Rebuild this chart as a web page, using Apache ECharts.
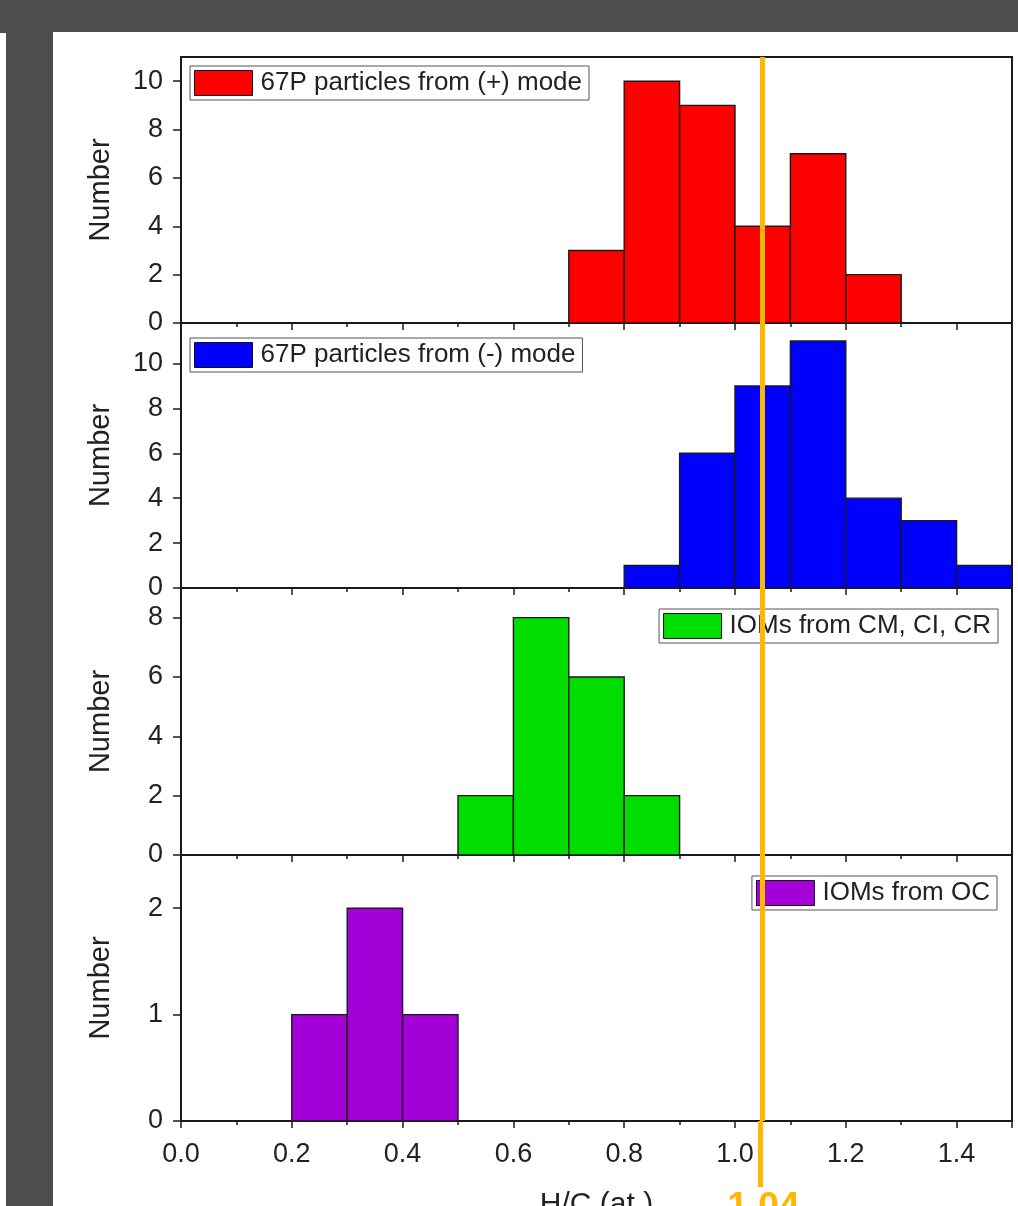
<!DOCTYPE html>
<html>
<head>
<meta charset="utf-8">
<script src="https://cdn.jsdelivr.net/npm/echarts@6/dist/echarts.min.js"></script>
<style>
  html, body { margin: 0; padding: 0; background: #4d4d4d; width: 1018px; height: 1206px; overflow: hidden; }
  .sheet { position: absolute; left: 53px; top: 32px; right: 0; bottom: 0; background: #fff; }
  .strip { position: absolute; left: 0; top: 33px; width: 6px; bottom: 0; background: #fff; }
  #chart { position: absolute; left: 0; top: 0; width: 1018px; height: 1206px; }
</style>
</head>
<body>
<div class="strip"></div>
<div class="sheet"></div>
<div id="chart"></div>
<script>
  // histogram bins: start of each 0.1-wide bin and its count
  const binWidth = 0.1
  const plusStarts = [0.7, 0.8, 0.9, 1.0, 1.1, 1.2]
  const plusCounts = [3, 10, 9, 4, 7, 2]
  const minusStarts = [0.8, 0.9, 1.0, 1.1, 1.2, 1.3, 1.4]
  const minusCounts = [1, 6, 9, 11, 4, 3, 1]
  const cmStarts = [0.5, 0.6, 0.7, 0.8]
  const cmCounts = [2, 8, 6, 2]
  const ocStarts = [0.2, 0.3, 0.4]
  const ocCounts = [1, 2, 1]

  const names = [
    '67P particles from (+) mode',
    '67P particles from (-) mode',
    'IOMs from CM, CI, CR',
    'IOMs from OC'
  ]
  const colors = ['#ff0000', '#0000ff', '#00dd00', '#a400d8']
  // y axis ranges and tick labels per panel
  const yMax = [11, 11.8, 9, 2.5]
  const yTicks = [[0, 2, 4, 6, 8, 10], [0, 2, 4, 6, 8, 10], [0, 2, 4, 6, 8], [0, 1, 2]]

  // the orange marker
  const markerValue = 1.046
  const markerLabel = '1.04'
  const orange = '#ffb700'

  const font = '"Liberation Sans", Arial, sans-serif'
  const gridTops = [57, 323, 588, 855]
  const gridHeights = [266, 265, 267, 266]

  const starts = [plusStarts, minusStarts, cmStarts, ocStarts]
  const counts = [plusCounts, minusCounts, cmCounts, ocCounts]

  /** draw one histogram bin through the axis scales */
  const histItem = (params, api) => {
    const start = api.value(0)
    const a = api.coord([start, api.value(1)])
    const b = api.coord([start + binWidth, 0])
    return {
      type: 'rect',
      shape: { x: a[0], y: a[1], width: b[0] - a[0], height: b[1] - a[1] },
      style: api.style({ stroke: '#1a1a1a', lineWidth: 1.4 })
    }
  }

  const grids = gridTops.map((top, i) => ({
    left: 181,
    right: 6,
    top: top,
    height: gridHeights[i],
    outerBoundsMode: 'none',
    containLabel: false,
    show: true,
    borderColor: '#1a1a1a',
    borderWidth: 2,
    backgroundColor: 'transparent'
  }))

  const xAxes = gridTops.map((t, i) => ({
    type: 'value',
    gridIndex: i,
    min: 0,
    max: 1.5,
    interval: 0.2,
    name: i === 3 ? 'H/C (at.)' : '',
    nameLocation: 'middle',
    nameGap: 69,
    nameTextStyle: { fontSize: 30, fontFamily: font, color: '#222' },
    axisLine: { show: true, onZero: false, lineStyle: { color: '#1a1a1a', width: 2 } },
    axisTick: { show: true, inside: false, length: 7, lineStyle: { color: '#1a1a1a', width: 1.5 } },
    minorTick: { show: true, splitNumber: 2, length: 4, lineStyle: { color: '#1a1a1a', width: 1.5 } },
    splitLine: { show: false },
    axisLabel: {
      show: i === 3,
      showMaxLabel: false,
      margin: 20,
      fontSize: 27,
      fontFamily: font,
      color: '#222',
      formatter: (v) => v.toFixed(1)
    }
  }))

  const yAxes = gridTops.map((t, i) => ({
    type: 'value',
    gridIndex: i,
    min: 0,
    max: yMax[i],
    name: 'Number',
    nameLocation: 'middle',
    nameGap: 66,
    nameTextStyle: { fontSize: 29, fontFamily: font, color: '#222' },
    axisLine: { show: true, lineStyle: { color: '#1a1a1a', width: 2 } },
    axisTick: { show: true, length: 8, customValues: yTicks[i], lineStyle: { color: '#1a1a1a', width: 1.5 } },
    splitLine: { show: false },
    axisLabel: {
      customValues: yTicks[i],
      margin: 18,
      fontSize: 27,
      fontFamily: font,
      color: '#222'
    }
  }))

  const series = names.map((name, i) => ({
    name: name,
    type: 'custom',
    xAxisIndex: i,
    yAxisIndex: i,
    renderItem: histItem,
    itemStyle: { color: colors[i] },
    encode: { x: 0, y: 1 },
    data: starts[i].map((s, k) => [s, counts[i][k]]),
    markLine: {
      silent: true,
      symbol: 'none',
      z: 10,
      label: { show: false },
      lineStyle: { color: orange, width: 5, type: 'solid' },
      data: [{ xAxis: markerValue }]
    }
  }))

  // extension of the marker below the bottom axis, with its label
  series.push({
    type: 'custom',
    xAxisIndex: 3,
    yAxisIndex: 3,
    clip: false,
    silent: true,
    z: 10,
    data: [[markerValue, 0]],
    renderItem: (params, api) => {
      const p = api.coord([api.value(0), 0])
      return {
        type: 'group',
        children: [
          {
            type: 'line',
            shape: { x1: p[0], y1: p[1], x2: p[0], y2: p[1] + 66 },
            style: { stroke: orange, lineWidth: 5 }
          },
          {
            type: 'text',
            x: p[0] + 3,
            y: p[1] + 68,
            style: {
              text: markerLabel,
              fill: orange,
              font: 'bold 37px ' + font,
              align: 'center',
              verticalAlign: 'top'
            }
          }
        ]
      }
    }
  })

  const legendBase = {
    orient: 'horizontal',
    icon: 'rect',
    itemWidth: 58,
    itemHeight: 25,
    padding: [4, 7, 4, 4],
    borderColor: '#555',
    borderWidth: 1,
    borderRadius: 0,
    backgroundColor: '#fff',
    selectedMode: false,
    itemStyle: { borderColor: '#111', borderWidth: 1 },
    textStyle: { fontSize: 26, fontFamily: font, color: '#222', padding: [0, 0, 0, 3] }
  }
  const legends = [
    Object.assign({}, legendBase, { data: [names[0]], left: 190, top: 66 }),
    Object.assign({}, legendBase, { data: [names[1]], left: 190, top: 338 }),
    Object.assign({}, legendBase, { data: [names[2]], right: 20, top: 609 }),
    Object.assign({}, legendBase, { data: [names[3]], right: 21, top: 876 })
  ]

  const chart = echarts.init(document.getElementById('chart'), null, { width: 1018, height: 1206 })
  chart.setOption({
    backgroundColor: 'transparent',
    animation: false,
    grid: grids,
    xAxis: xAxes,
    yAxis: yAxes,
    legend: legends,
    series: series
  })
</script>
</body>
</html>
